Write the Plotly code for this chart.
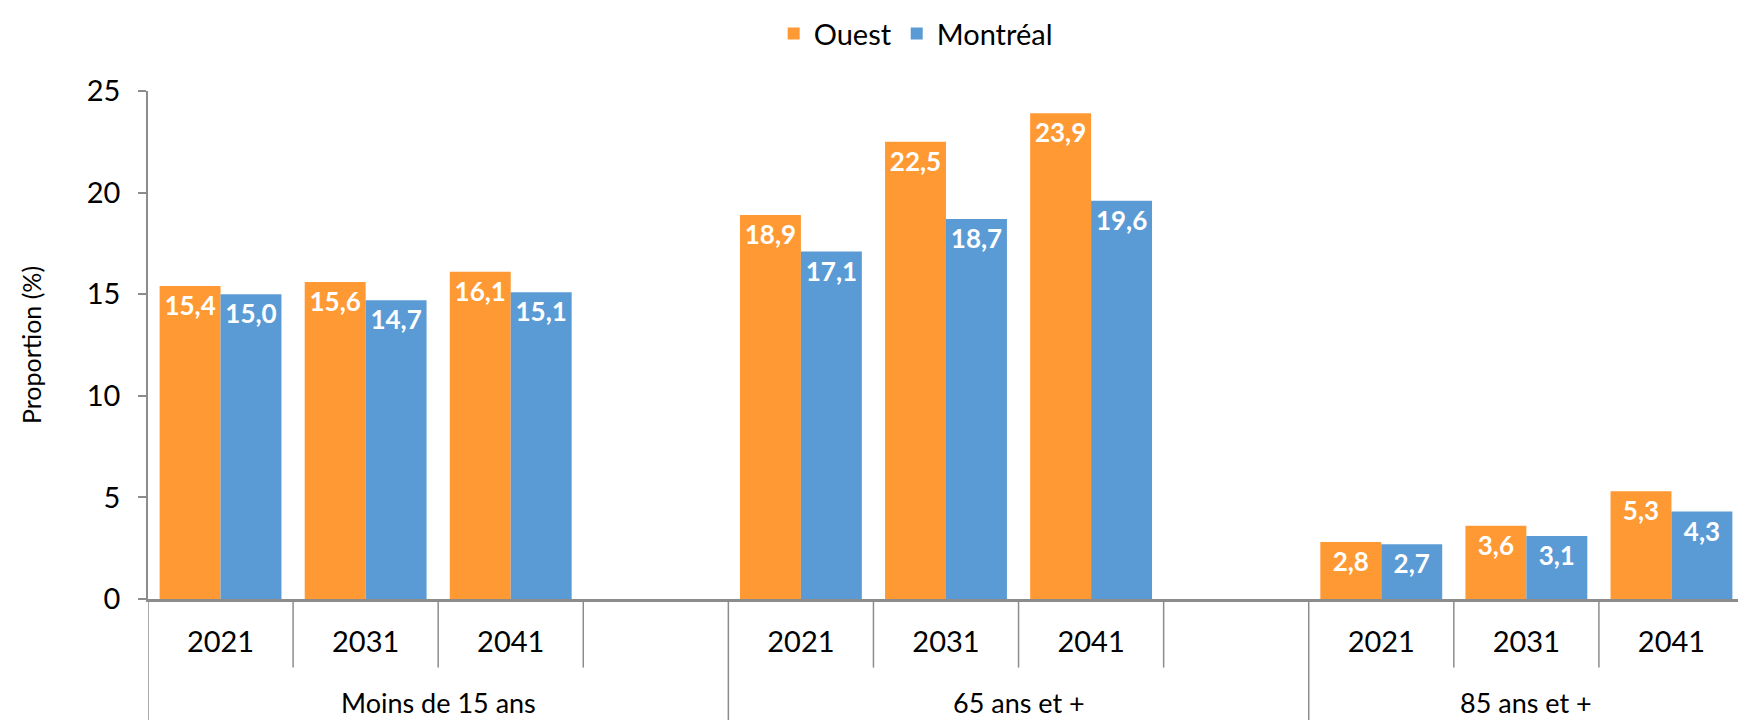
import plotly.graph_objects as go

groups = ["Moins de 15 ans", "65 ans et +", "85 ans et +"]
years = ["2021", "2031", "2041"]
ouest = [[15.4, 15.6, 16.1], [18.9, 22.5, 23.9], [2.8, 3.6, 5.3]]
montreal = [[15.0, 14.7, 15.1], [17.1, 18.7, 19.6], [2.7, 3.1, 4.3]]
series_names = ["Ouest", "Montréal"]
colors = ["#FF9933", "#5B9BD5"]

FONT = "Lato, 'Open Sans', sans-serif"

# build slots (a blank spacer slot after every group except the last)
keys, ticktext, vals_o, vals_m = [], [], [], []
group_spans = []
for gi, g in enumerate(groups):
    start = len(keys)
    for yi, y in enumerate(years):
        keys.append(f"{g}|{y}")
        ticktext.append(y)
        vals_o.append(ouest[gi][yi])
        vals_m.append(montreal[gi][yi])
    if gi < len(groups) - 1:
        keys.append(f"{g}|")
        ticktext.append("")
        vals_o.append(None)
        vals_m.append(None)
    group_spans.append((start, len(keys) - 1))


def fmt(v):
    return "" if v is None else f"{v:.1f}".replace(".", ",")


fig = go.Figure()
for name, vals, col in zip(series_names, [vals_o, vals_m], colors):
    fig.add_trace(go.Bar(
        x=keys, y=vals, name=name, marker=dict(color=col, line=dict(width=0)),
        text=[fmt(v) for v in vals], textposition="inside", insidetextanchor="end",
        textfont=dict(family=FONT, size=26, color="white", weight="bold"),
        textangle=0, cliponaxis=False,
    ))

shapes = []
annotations = []
axis_grey = "#8C8C8C"
for gi, (s, e) in enumerate(group_spans):
    # long divider at group start
    shapes.append(dict(type="line", xref="x", yref="paper", x0=s - 0.5, x1=s - 0.5,
                       y0=0, y1=-0.26, line=dict(color=axis_grey, width=1.5)))
    # short dividers between slots
    for k in range(s, e):
        shapes.append(dict(type="line", xref="x", yref="paper", x0=k + 0.5, x1=k + 0.5,
                           y0=0, y1=-0.135, line=dict(color=axis_grey, width=1.5)))
    end = e + 0.5
    annotations.append(dict(text=groups[gi], xref="x", yref="paper",
                            x=(s - 0.5 + end) / 2, y=-0.203, showarrow=False,
                            xanchor="center", yanchor="middle",
                            font=dict(family=FONT, size=27, color="black")))

fig.update_layout(
    width=1738, height=712,
    margin=dict(l=140, r=2, t=83, b=121, autoexpand=False),
    paper_bgcolor="white", plot_bgcolor="white",
    barmode="group", bargap=0.16, bargroupgap=0,
    font=dict(family=FONT, size=26, color="black"),
    showlegend=True,
    legend=dict(orientation="h", x=0.481, xanchor="center", y=1.163, yanchor="top",
                font=dict(family=FONT, size=29, color="black"), itemwidth=30,
                bgcolor="rgba(0,0,0,0)", borderwidth=0),
    shapes=shapes, annotations=annotations,
    xaxis=dict(type="category", categoryorder="array", categoryarray=keys,
               tickmode="array", tickvals=keys, ticktext=ticktext,
               range=[-0.5, len(keys) - 0.5], automargin=False,
               showline=True, linecolor=axis_grey, linewidth=2.5,
               ticks="", showgrid=False, zeroline=False,
               tickfont=dict(family=FONT, size=29, color="black"),
               ticklabelstandoff=15, fixedrange=True),
    yaxis=dict(range=[0, 25], tickvals=[0, 5, 10, 15, 20, 25], automargin=False,
               showline=True, linecolor=axis_grey, linewidth=1.5,
               ticks="outside", ticklen=8, tickcolor=axis_grey, tickwidth=1.5,
               showgrid=False, zeroline=False,
               tickfont=dict(family=FONT, size=29, color="black"),
               ticklabelstandoff=12,
               title=dict(text="Proportion (%)", standoff=38,
                          font=dict(family=FONT, size=25, color="black"))),
)

fig.write_html("out.html")
